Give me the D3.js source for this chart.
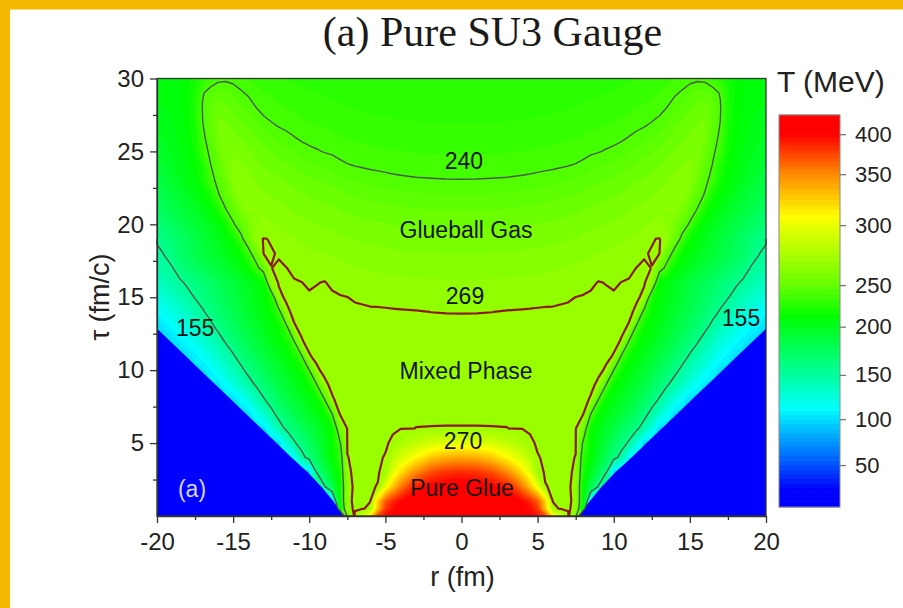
<!DOCTYPE html>
<html>
<head>
<meta charset="utf-8">
<script src="https://cdn.jsdelivr.net/npm/d3@7"></script>
<style>
  html, body { margin: 0; padding: 0; background: #fff; }
  svg { display: block; }
</style>
</head>
<body>
<svg id="chart" width="903" height="608"></svg>
<script>
// ---- data -----------------------------------------------------------------
// radial grid knots (fm) for r >= 0; the slab is symmetric, negative r mirrors these
const rKnots = [0, 1, 2, 3, 3.5, 4, 4.5, 5, 5.5, 6, 6.5, 7, 7.5, 8, 8.5, 9, 9.5, 10, 10.5,
  11, 11.5, 12, 12.5, 13, 13.5, 14, 14.5, 15, 15.5, 16, 16.5, 17, 17.5, 18, 18.5, 19, 19.5, 20];
// proper time of each grid row (fm/c)
const tauRows = [0, 0.5].concat(d3.range(1, 31));
// temperature T(r, tau) in MeV, one row per tau, one column per rKnot (0 = vacuum)
const temperature = [
  [430,429,426,420,415,410,403,396,375,315, 290,271,254,0,0,0,0,0,0,0, 0,0,0,0,0,0,0,0,0,0, 0,0,0,0,0,0,0,0],
  [428,427,424,418,412,405,396,380,330,270.6, 269.8,269.5,267.8,198,0,0,0,0,0,0, 0,0,0,0,0,0,0,0,0,0, 0,0,0,0,0,0,0,0],
  [425,424,421,414,408,400,388,368,325,269.95, 269.7,269.5,268.3,212,98,0,0,0,0,0, 0,0,0,0,0,0,0,0,0,0, 0,0,0,0,0,0,0,0],
  [410,408,403,390,376,355,330,300,270.09,269.8, 269.6,269.35,268.2,211.8,182,152,0,0,0,0, 0,0,0,0,0,0,0,0,0,0, 0,0,0,0,0,0,0,0],
  [385,382,372,350,335,318,298,270.8,269.8,269.7, 269.6,269.4,268.6,220.9,200,180,160,95,0,0, 0,0,0,0,0,0,0,0,0,0, 0,0,0,0,0,0,0,0],
  [340,337,328,310,300,292,282,270.1,269.8,269.7, 269.6,269.5,268.9,227.6,211,195,179,163,147,110, 0,0,0,0,0,0,0,0,0,0, 0,0,0,0,0,0,0,0],
  [298,296,291,284,280,276,270.3,269.8,269.8,269.75, 269.7,269.6,269.3,236.7,214,200,188,175,164,152, 128,98,0,0,0,0,0,0,0,0, 0,0,0,0,0,0,0,0],
  [270.05,270.05,270.04,270.02,269.85,269.8,269.8,269.75,269.7,269.7, 269.6,269.5,269.3,255,215,205,195,186,177,168, 159,145,124,100,0,0,0,0,0,0, 0,0,0,0,0,0,0,0],
  [269.8,269.8,269.8,269.8,269.8,269.8,269.75,269.75,269.7,269.7, 269.6,269.5,269.4,269.1,239.5,214,205,198,190,182, 173,162,148,132,118,100,0,0,0,0, 0,0,0,0,0,0,0,0],
  [269.8,269.8,269.8,269.8,269.8,269.75,269.75,269.7,269.7,269.65, 269.6,269.5,269.4,269.25,268.9,239.8,215,206,199,192, 184,175,165,153,138,124,112,100,0,0, 0,0,0,0,0,0,0,0],
  [269.8,269.8,269.8,269.8,269.75,269.75,269.7,269.7,269.7,269.65, 269.6,269.55,269.5,269.4,269.2,268.8,239.8,216,207,200, 193,185,176,167,157,146,135,124,113,103, 0,0,0,0,0,0,0,0],
  [269.8,269.8,269.8,269.75,269.75,269.7,269.7,269.7,269.65,269.6, 269.6,269.55,269.5,269.45,269.35,269.2,268.87,239.8,217,208, 201,194,186,178,170,161,150,140,130,120, 110,102,0,0,0,0,0,0],
  [269.75,269.75,269.75,269.7,269.7,269.7,269.7,269.65,269.65,269.6, 269.6,269.55,269.5,269.45,269.4,269.3,269.2,268.95,239.8,218, 209,202,195,188,180,172,164,153,143,133, 124,115,108,101,0,0,0,0],
  [269.75,269.75,269.7,269.7,269.7,269.65,269.65,269.6,269.6,269.6, 269.55,269.5,269.5,269.45,269.4,269.35,269.3,269.2,268.95,239.8, 218,210,203,196,189,182,174,166,157,146, 137,128,120,113,107,101,0,0],
  [269.7,269.7,269.7,269.7,269.65,269.65,269.6,269.6,269.6,269.55, 269.55,269.5,269.45,269.45,269.4,269.35,269.3,269.25,269.15,268.94, 236.8,216,209,202,196,189,182,175,168,160, 150,141,133,125,118,112,106,101],
  [268.9,268.92,268.98,269.15,269.2,269.25,269.3,269.35,269.4,269.4, 269.45,269.45,269.45,269.4,269.4,269.35,269.3,269.3,269.25,269.15, 268.85,232.8,214,207,201,195,188,181,175,168, 161,153,145,137,130,123,117,112],
  [267.5,267.5,267.6,267.7,267.7,267.8,267.9,268.1,268.2,268.3, 268.55,268.75,269.02,269.2,269.3,269.35,269.35,269.3,269.25,269.2, 269.1,268.85,220.8,210,204,198,192,186,180,174, 168,162,156,149,142,136,130,124],
  [265.5,265.5,265.6,265.7,265.8,265.95,266.1,266.3,266.5,266.7, 267.0,267.3,267.6,268.0,268.65,269.1,268.93,268.65,269.05,269.2, 269.2,269.05,268.55,211.5,206,200,194,188,183,178, 172,167,162,158,152,147,141,135],
  [263,263,263.1,263.3,263.4,263.6,263.8,264.0,264.3,264.5, 264.9,265.3,265.6,266.5,267.3,268.1,267.6,267.3,267.8,268.5, 269.05,269.15,268.98,251,232.7,214,206,200,194,189, 184,179,174,168,163,154,150,145],
  [260,260,260.15,260.3,260.4,260.6,260.9,261.2,261.5,261.8, 262.2,262.7,263.1,263.8,264.5,265.0,265.5,265.9,266.5,267.1, 268.0,268.9,269.1,269.05,251,232.7,215,208,202,197, 192,187,182,177,172,163,156,150],
  [257,257,257.15,257.3,257.45,257.65,257.9,258.2,258.5,258.8, 259.25,259.7,260.15,260.9,261.8,262.4,263.0,263.5,264.3,265.2, 265.9,267.4,268.9,269.1,268.1,251.6,235,216,208,202, 196,190,184,178,173,167,162,158],
  [254,254,254.1,254.2,254.4,254.7,254.9,255.2,255.5,255.8, 256.2,256.7,257.15,257.9,258.8,259.4,260,260.6,261.5,262.5, 263.5,264.3,265.3,267.0,264,256,248,238,218,208, 202,196,191,186,181,176,171,166],
  [250,250,250.1,250.4,250.6,250.9,251.2,251.6,252,252.4, 253,253.6,254.1,254.9,255.8,256.4,257,257.6,258.5,259.5, 260.6,261.5,262.7,263.8,265.3,265,257,248,239,220, 210,204,198,193,188,183,178,173],
  [245.5,245.5,245.75,246,246.25,246.6,247,247.4,248,248.4, 249,249.6,250.1,251.2,252.4,253.2,254,254.6,255.5,256.6, 257.6,258.5,259.7,260.9,262.7,264.5,264,256,247,238.3, 220,211,205,199,194,189,184,180],
  [240.3,240.35,240.55,240.8,241.1,241.4,241.8,242.3,243,243.5, 244.3,245,245.75,247,248.4,249.2,250,250.8,252,253.4, 254.6,255.5,256.7,257.9,259.7,261.8,263.3,261.6,252.6,243.6, 234.6,218,210,205,200,195,190,186],
  [237,237,237.1,237.25,237.4,237.6,237.8,238.2,238.5,238.9, 239.4,239.98,240.55,241.8,243.5,244.5,245.5,246.5,248,249.4, 250.8,252,253.6,254.9,256.7,258.8,260.3,262,257,248, 239.1,222,213,207,203,199,195,191],
  [234.5,234.5,234.6,234.75,234.9,235.05,235.2,235.5,235.7,236, 236.4,236.8,237.1,237.8,238.9,239.6,240.6,241.6,243,244.8, 246.5,248,249.6,251.2,253.6,255.8,257.3,259,260,251.7, 242.7,233.7,216,209,205,201,198,196],
  [232,232,232.1,232.2,232.3,232.45,232.6,232.8,233.2,233.5, 233.9,234.2,234.6,235.2,236,236.5,237,237.6,238.5,240.1, 241.6,243,245,247,249.6,252.4,254.2,256.1,257.9,255.3, 246.3,237.3,219,211,207,203,201,200],
  [230,230,230.1,230.2,230.3,230.45,230.6,230.8,231,231.2, 231.5,231.8,232.1,232.6,233.5,234,234.5,235,235.7,236.6, 237.6,238.5,240.1,241.8,245,248.4,250.4,252.8,254.9,256, 249,239.8,221,212,208,205,203,203],
  [228,228,228.1,228.2,228.3,228.45,228.6,228.8,229,229.2, 229.5,229.8,230.1,230.6,231.2,231.6,232,232.5,233.2,234.1, 235,235.7,236.8,237.8,240.1,243.5,245.9,248.8,251.2,253, 248,241,222,213,209,207,205,205],
  [226.5,226.5,226.6,226.7,226.8,226.85,226.95,227.1,227.25,227.4, 227.6,227.85,228.1,228.6,229.2,229.6,230,230.4,231,231.7, 232.5,233.2,234.2,235.2,236.8,238.9,241,244,247,247, 244,239.2,222,214,210,208,207,207],
  [225,225,225.1,225.2,225.3,225.4,225.5,225.6,225.7,225.85, 226,226.2,226.4,226.8,227.2,227.6,228,228.3,228.8,229.3, 230,230.6,231.4,232.3,233.6,235,236.5,237.6,238.2,237.5, 234,227,218,213,210,208.5,208,208]
];
// position of the vacuum front (r > 0 side; mirrored for r < 0)
const frontTau = [0, 1, 2, 3, 4, 5, 6, 7, 8, 9, 10, 11, 12, 12.85];
const frontR = [7.75, 8.4, 9.2, 10.1, 11.15, 12.15, 13.15, 14.15, 15.15, 16.15, 17.15, 18.15, 19.15, 20];
// labelled isotherms (MeV)
const contourLevels = [155, 240, 269, 270];
const xTicks = [-20, -15, -10, -5, 0, 5, 10, 15, 20];
const xMinorTicks = [-17.5, -12.5, -7.5, -2.5, 2.5, 7.5, 12.5, 17.5];
const yTicks = [5, 10, 15, 20, 25, 30];
const yMinorTicks = [2.5, 7.5, 12.5, 17.5, 22.5, 27.5];
const colorbarTicks = [50, 100, 150, 200, 250, 300, 350, 400];
// colour-level edges of the scale bar (MeV)
const colorbarLevels = [4, 50, 100, 150, 200, 250, 300, 350, 400, 424];
// temperatures at which the palette passes blue, cyan, green, yellow, red
const paletteStops = [22, 112, 212, 308, 400];
const paletteColors = ["#0000ff", "#00ffff", "#00ff00", "#ffff00", "#ff0000"];
const regionLabels = [
  { text: "Glueball Gas", r: 0.3, tau: 19.63 },
  { text: "Mixed Phase", r: 0.3, tau: 9.95 },
  { text: "Pure Glue", r: 0.03, tau: 1.92 }
];
const contourLabels = [
  { level: 240, r: 0.16, tau: 24.37 },
  { level: 269, r: 0.23, tau: 15.1 },
  { level: 270, r: 0.1, tau: 5.15 },
  { level: 155, r: -17.5, tau: 12.9 },
  { level: 155, r: 18.36, tau: 13.6 }
];

// ---- layout -----------------------------------------------------------------
const SANS = '"Liberation Sans", Arial, sans-serif';
const SERIF = '"Liberation Serif", "Times New Roman", serif';
const plot = { left: 157, right: 766, top: 78.5, bottom: 516 };
const bar = { left: 779, right: 840, top: 115, bottom: 507 };
// relative heights of the level edges along the scale bar
const barFractions = [0, 0.107, 0.224, 0.337, 0.46, 0.566, 0.719, 0.849, 0.951, 1];

const svg = d3.select("#chart");

// orange page frame (top and left)
svg.append("rect").attr("x", 0).attr("y", 0).attr("width", 903).attr("height", 9.5).attr("fill", "#f5b800");
svg.append("rect").attr("x", 0).attr("y", 0).attr("width", 10).attr("height", 608).attr("fill", "#f5b800");

const xScale = d3.scaleLinear().domain([-20, 20]).range([plot.left, plot.right]);
const yScale = d3.scaleLinear().domain([0, 30]).range([plot.bottom, plot.top]);
const color = d3.scaleLinear().domain(paletteStops).range(paletteColors)
  .interpolate(d3.interpolateRgb).clamp(true);

// ---- build the full (mirrored) grid ------------------------------------------
temperature.forEach((row, j) => {
  if (row.length !== rKnots.length) throw new Error("row " + j + " has " + row.length + " values");
});
if (temperature.length !== tauRows.length) throw new Error("row count " + temperature.length);
const rFull = rKnots.slice(1).reverse().map(r => -r).concat(rKnots);
const nx = rFull.length, ny = tauRows.length;
const fullRows = temperature.map(row => row.slice(1).reverse().concat(row));
const values = fullRows.flat();

// For the colour fill only: carry each row's outermost hot value across the vacuum,
// so the fill stays flat up to the front; the vacuum itself is painted as its own shape.
const fillValues = fullRows.map(row => {
  const out = row.slice(), c = (out.length - 1) / 2;
  for (let i = c + 1; i < out.length; i++) if (out[i] === 0) out[i] = out[i - 1];
  for (let i = c - 1; i >= 0; i--) if (out[i] === 0) out[i] = out[i + 1];
  return out;
}).flat();

// grid index -> physical coordinates (sample k sits at contour coordinate k + 0.5)
const rAt = d3.scaleLinear().domain(d3.range(nx)).range(rFull).clamp(true);
const tauAt = d3.scaleLinear().domain(d3.range(ny)).range(tauRows).clamp(true);
const toPx = p => [xScale(rAt(p[0] - 0.5)), yScale(tauAt(p[1] - 0.5))];
const path = d3.geoPath(d3.geoTransform({
  point: function (x, y) { const q = toPx([x, y]); this.stream.point(q[0], q[1]); }
}));

// ---- filled isotherm bands -----------------------------------------------------
const thresholds = Array.from(new Set(d3.range(0, 430, 5).concat([269, 270]))).sort((a, b) => a - b);
const bandTop = i => (i + 1 < thresholds.length ? thresholds[i + 1] : thresholds[i] + 5);
const fillGroup = svg.append("g");
fillGroup.append("rect").attr("x", plot.left).attr("y", plot.top)
  .attr("width", plot.right - plot.left).attr("height", plot.bottom - plot.top).attr("fill", color(0));
d3.contours().size([nx, ny]).thresholds(thresholds)(fillValues).forEach((c, i) => {
  if (!c.coordinates.length) return;
  fillGroup.append("path").attr("d", path(c))
    .attr("fill", color((thresholds[i] + bandTop(i)) / 2));
});

// vacuum outside the expanding front
const line = d3.line();
[1, -1].forEach(side => {
  const pts = frontTau.map((t, k) => [xScale(side * frontR[k]), yScale(t)]);
  pts.push([xScale(side * 20), yScale(0)]);
  fillGroup.append("path").attr("d", line(pts) + "Z").attr("fill", color(0));
});

// ---- labelled isotherm lines (without the segments lying on the grid border) ----
function linePath(geom) {
  let d = "";
  const onBorder = (a, b) =>
    (a[0] === 0 && b[0] === 0) || (a[0] === nx && b[0] === nx) ||
    (a[1] === 0 && b[1] === 0) || (a[1] === ny && b[1] === ny);
  geom.coordinates.forEach(poly => poly.forEach(ring => {
    let pen = false;
    for (let k = 0; k < ring.length - 1; k++) {
      const a = ring[k], b = ring[k + 1];
      if (onBorder(a, b)) { pen = false; continue; }
      if (!pen) { const p = toPx(a); d += "M" + p[0].toFixed(2) + "," + p[1].toFixed(2); pen = true; }
      const q = toPx(b); d += "L" + q[0].toFixed(2) + "," + q[1].toFixed(2);
    }
  }));
  return d;
}
const lineStyle = {
  155: { stroke: "#4a5a4a", width: 1.4 },
  240: { stroke: "#4a5a4a", width: 1.4 },
  269: { stroke: "#8c1a08", width: 2.2 },
  270: { stroke: "#8c1a08", width: 2.2 }
};
const lineGroup = svg.append("g").attr("fill", "none").attr("stroke-linejoin", "round");
d3.contours().size([nx, ny]).thresholds(contourLevels)(values).forEach(c => {
  lineGroup.append("path").attr("d", linePath(c))
    .attr("stroke", lineStyle[c.value].stroke)
    .attr("stroke-width", lineStyle[c.value].width);
});

// ---- labels inside the plot ----------------------------------------------------
const labelGroup = svg.append("g").attr("text-anchor", "middle").attr("dominant-baseline", "central")
  .style("font-family", SANS).attr("font-size", 23).attr("fill", "#141414");
regionLabels.forEach(l => {
  labelGroup.append("text").attr("x", xScale(l.r)).attr("y", yScale(l.tau)).text(l.text);
});
contourLabels.forEach(l => {
  labelGroup.append("text").attr("x", xScale(l.r)).attr("y", yScale(l.tau)).text(String(l.level));
});
svg.append("text").attr("x", xScale(-17.7)).attr("y", yScale(1.85))
  .attr("text-anchor", "middle").attr("dominant-baseline", "central").style("font-family", SANS)
  .attr("font-size", 23).attr("fill", "#d6d6ff").text("(a)");

// ---- frame and axes -------------------------------------------------------------
svg.append("rect").attr("x", plot.left).attr("y", plot.top)
  .attr("width", plot.right - plot.left).attr("height", plot.bottom - plot.top)
  .attr("fill", "none").attr("stroke", "#333").attr("stroke-width", 1.3);

function styleAxis(g) {
  g.select(".domain").attr("stroke", "#333").attr("stroke-width", 1.3);
  g.selectAll(".tick line").attr("stroke", "#333").attr("stroke-width", 1.3);
  g.selectAll(".tick text").attr("font-size", 24).attr("fill", "#222").style("font-family", SANS);
}
const xAxisG = svg.append("g").attr("transform", `translate(0,${plot.bottom})`)
  .call(d3.axisBottom(xScale).tickValues(xTicks).tickSize(7).tickSizeOuter(0)
    .tickPadding(10).tickFormat(d => String(d)));
styleAxis(xAxisG);
const xMinorG = svg.append("g").attr("transform", `translate(0,${plot.bottom})`)
  .call(d3.axisBottom(xScale).tickValues(xMinorTicks).tickSize(4).tickSizeOuter(0).tickFormat(""));
xMinorG.select(".domain").remove();
styleAxis(xMinorG);

const yAxisG = svg.append("g").attr("transform", `translate(${plot.left},0)`)
  .call(d3.axisLeft(yScale).tickValues(yTicks).tickSize(7).tickSizeOuter(0)
    .tickPadding(6).tickFormat(d => String(d)));
styleAxis(yAxisG);
const yMinorG = svg.append("g").attr("transform", `translate(${plot.left},0)`)
  .call(d3.axisLeft(yScale).tickValues(yMinorTicks).tickSize(4).tickSizeOuter(0).tickFormat(""));
yMinorG.select(".domain").remove();
styleAxis(yMinorG);

svg.append("text").attr("x", (plot.left + plot.right) / 2 + 1).attr("y", 586)
  .attr("text-anchor", "middle").style("font-family", SANS).attr("font-size", 27)
  .attr("fill", "#222").text("r (fm)");
svg.append("text").attr("transform", "translate(109,297) rotate(-90)")
  .attr("text-anchor", "middle").style("font-family", SANS).attr("font-size", 27)
  .attr("fill", "#222").text("τ (fm/c)");

// ---- title ------------------------------------------------------------------------
svg.append("text").attr("x", 492.5).attr("y", 46).attr("text-anchor", "middle")
  .style("font-family", SERIF).attr("font-size", 42).attr("fill", "#1a1a1a")
  .text("(a) Pure SU3 Gauge");

// ---- colour scale bar ----------------------------------------------------------------
const barY = d3.scaleLinear().domain(colorbarLevels)
  .range(barFractions.map(f => bar.bottom - f * (bar.bottom - bar.top)));
const lo = colorbarLevels[0], hi = colorbarLevels[colorbarLevels.length - 1];
const barGroup = svg.append("g");
thresholds.forEach((t, i) => {
  const a = Math.max(t, lo), b = Math.min(bandTop(i), hi);
  if (b <= a) return;
  barGroup.append("rect").attr("x", bar.left).attr("width", bar.right - bar.left)
    .attr("y", barY(b) - 0.3).attr("height", barY(a) - barY(b) + 0.6)
    .attr("fill", color((t + bandTop(i)) / 2));
});
svg.append("rect").attr("x", bar.left).attr("y", bar.top)
  .attr("width", bar.right - bar.left).attr("height", bar.bottom - bar.top)
  .attr("fill", "none").attr("stroke", "#8a8a8a").attr("stroke-width", 1);
const barAxis = svg.append("g").attr("transform", `translate(${bar.right},0)`)
  .call(d3.axisRight(barY).tickValues(colorbarTicks).tickSize(6).tickSizeOuter(0)
    .tickPadding(9).tickFormat(d => String(d)));
barAxis.select(".domain").remove();
barAxis.selectAll(".tick line").attr("stroke", "#777").attr("stroke-width", 1.3);
barAxis.selectAll(".tick text").attr("font-size", 22).attr("fill", "#222").style("font-family", SANS);
svg.append("text").attr("x", 777).attr("y", 92).style("font-family", SANS).attr("font-size", 30)
  .attr("fill", "#222").text("T (MeV)");
</script>
</body>
</html>
